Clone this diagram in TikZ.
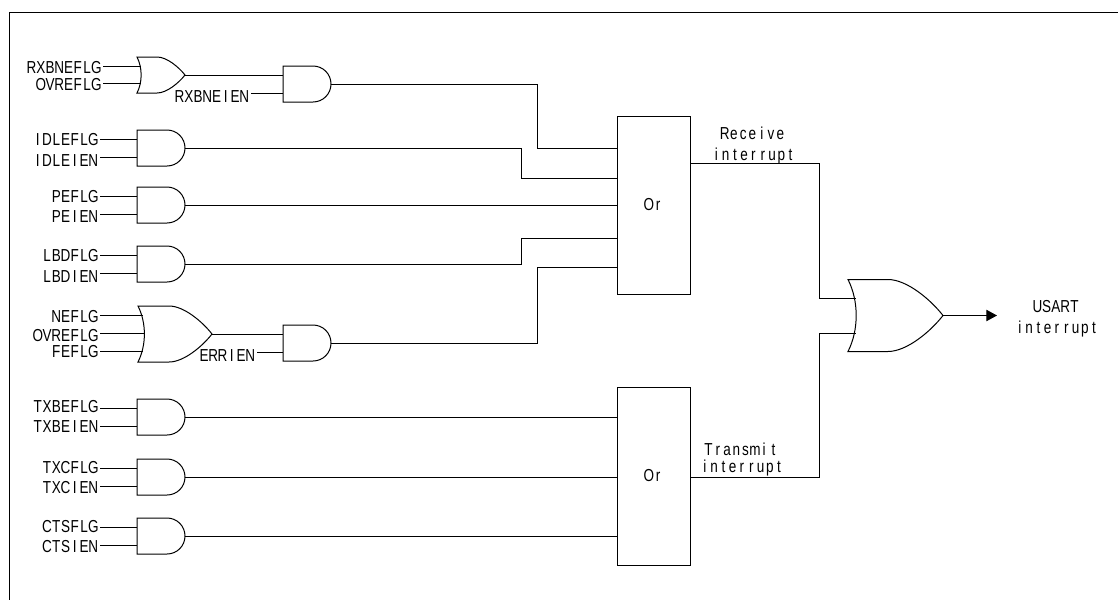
\documentclass[tikz,border=0pt]{standalone}
\usepackage{fontspec}
\setmainfont[FakeStretch=0.78]{Liberation Sans}
\usetikzlibrary{arrows.meta}
\makeatletter
\newcommand{\cells}[1]{\@tfor\cellch:=#1\do{\makebox[6.95pt][c]{\cellch}}}
\makeatother
\tikzset{
  x=0.75pt,y=-0.75pt,
  wire/.style={line width=0.75pt,black},
  gate/.style={line width=0.75pt,black},
  txt/.style={inner sep=0pt,text height=9.3pt,text depth=0pt,font=\fontsize{13pt}{15pt}\selectfont,text=black},
  lbl/.style={txt,anchor=east,outer xsep=1.5pt},
  boxn/.style={draw,line width=0.75pt,minimum width=54.75pt,minimum height=133.5pt,inner sep=0pt,font=\fontsize{13pt}{15pt}\selectfont},
}
% and gate: #1 x left, #2 y top (36 high, 48 wide); #3 name prefix
\newcommand{\andg}[3]{%
  \draw[gate] (#1,#2) -- ++(30,0) arc[start angle=90,end angle=-90,x radius=13.5pt,y radius=13.5pt] -- ++(-30,0) -- cycle;
  \coordinate (#3o) at ({#1+48},{#2+18});
  \coordinate (#3a) at (#1,{#2+9});
  \coordinate (#3b) at (#1,{#2+27});
}
% or gate: #1 x left, #2 y top, #3 width, #4 height, #5 name
\newcommand{\org}[5]{%
  \draw[gate] (#1,#2) -- ({#1+0.42*#3},#2)
    .. controls ({#1+0.62*#3},#2) and ({#1+0.87*#3},{#2+0.28*#4}) .. ({#1+#3},{#2+0.5*#4})
    .. controls ({#1+0.87*#3},{#2+0.72*#4}) and ({#1+0.62*#3},{#2+#4}) .. ({#1+0.42*#3},{#2+#4})
    -- (#1,{#2+#4})
    .. controls ({#1+0.115*#3},{#2+0.7*#4}) and ({#1+0.115*#3},{#2+0.3*#4}) .. (#1,#2) -- cycle;
  \coordinate (#5o) at ({#1+#3},{#2+0.5*#4});
}
\begin{document}
\begin{tikzpicture}
\useasboundingbox (0,0) rectangle (1118,600);
\draw[line width=0.75pt] (9,600) -- (9,12) -- (1118,12);
% labels
\node[lbl] (l1) at (103,67) {\cells{RXBNEFLG}};
\node[lbl] (l2) at (103,84) {\cells{OVREFLG}};
\node[lbl] (l3) at (251,96) {\cells{RXBNEIEN}};
\node[lbl] (l4) at (100,139) {\cells{IDLEFLG}};
\node[lbl] (l5) at (100,160) {\cells{IDLEIEN}};
\node[lbl] (l6) at (100,196) {\cells{PEFLG}};
\node[lbl] (l7) at (100,216) {\cells{PEIEN}};
\node[lbl] (l8) at (100,255) {\cells{LBDFLG}};
\node[lbl] (l9) at (100,276) {\cells{LBDIEN}};
\node[lbl] (l10) at (100,316) {\cells{NEFLG}};
\node[lbl] (l11) at (100,335) {\cells{OVREFLG}};
\node[lbl] (l12) at (100,351) {\cells{FEFLG}};
\node[lbl] (l13) at (257,355) {\cells{ERRIEN}};
\node[lbl] (l14) at (100,406) {\cells{TXBEFLG}};
\node[lbl] (l15) at (100,426) {\cells{TXBEIEN}};
\node[lbl] (l16) at (100,467) {\cells{TXCFLG}};
\node[lbl] (l17) at (100,487) {\cells{TXCIEN}};
\node[lbl] (l18) at (100,526) {\cells{CTSFLG}};
\node[lbl] (l19) at (100,546) {\cells{CTSIEN}};
% boxes
\node[boxn] (or1) at (653.5,205) {\cells{Or}};
\node[boxn] (or2) at (653.5,476) {\cells{Or}};
% gates
\org{137}{57}{48}{36}{ga}
\andg{283}{66}{gb}
\andg{137}{130}{gc}
\andg{137}{187}{gd}
\andg{137}{246}{ge}
\org{138}{306}{74}{56}{gf}
\andg{283}{325}{gg}
\andg{137}{399}{gh}
\andg{137}{459}{gi}
\andg{137}{518}{gj}
\org{848}{279.5}{95}{72}{gk}
% coordinates of OR inputs
\coordinate (ga1) at (141,66);
\coordinate (ga2) at (141,83);
\coordinate (gf1) at (143,315);
\coordinate (gf2) at (144,333);
\coordinate (gf3) at (143,351);
\coordinate (gk1) at (856,298);
\coordinate (gk2) at (856,333);
% connectors
\draw[wire] (l1.east |- ga1) -- (ga1);
\draw[wire] (l2.east |- ga2) -- (ga2);
\draw[wire] (l10.east |- gf1) -- (gf1);
\draw[wire] (l11.east |- gf2) -- (gf2);
\draw[wire] (l12.east |- gf3) -- (gf3);
\draw[wire] (gao) -- (gba);
\draw[wire] (l3.east |- gbb) -- (gbb);
\draw[wire] (gfo) -- (gga);
\draw[wire] (l13.east |- ggb) -- (ggb);
\foreach \g/\a/\b in {gc/l4/l5,gd/l6/l7,ge/l8/l9,gh/l14/l15,gi/l16/l17,gj/l18/l19}{
  \draw[wire] (\a.east |- \g a) -- (\g a);
  \draw[wire] (\b.east |- \g b) -- (\g b);
}
\draw[wire] (gbo) -- (537,84) -- (537,148) -- (or1.west |- 0,148);
\draw[wire] (gco) -- (521,148) -- (521,178) -- (or1.west |- 0,178);
\draw[wire] (gdo) -- (or1.west |- gdo);
\draw[wire] (geo) -- (521,264) -- (521,238) -- (or1.west |- 0,238);
\draw[wire] (ggo) -- (537,343) -- (537,267) -- (or1.west |- 0,267);
\draw[wire] (gho) -- (or2.west |- gho);
\draw[wire] (gio) -- (or2.west |- gio);
\draw[wire] (gjo) -- (or2.west |- gjo);
\draw[wire] (or1.east |- 0,163) -- (819,163) -- (819,298) -- (gk1);
\draw[wire] (or2.east |- 0,477) -- (819,477) -- (819,333) -- (gk2);
\coordinate (out) at (997,315.5);
\draw[wire,-{Triangle[length=8pt,width=8.5pt]}] (gko) -- (out);
\node[txt] (t1) at (752.5,133) {\cells{Receive}};
\node[txt] (t2) at (753.5,154) {\cells{interrupt}};
\node[txt] (t3) at (741,449.5) {\cells{Transmit}};
\node[txt] (t4) at (742,466) {\cells{interrupt}};
\node[txt] (t5) at (1056,306) {\cells{USART}};
\node[txt] (t6) at (1057,327) {\cells{interrupt}};
\end{tikzpicture}
\end{document}
